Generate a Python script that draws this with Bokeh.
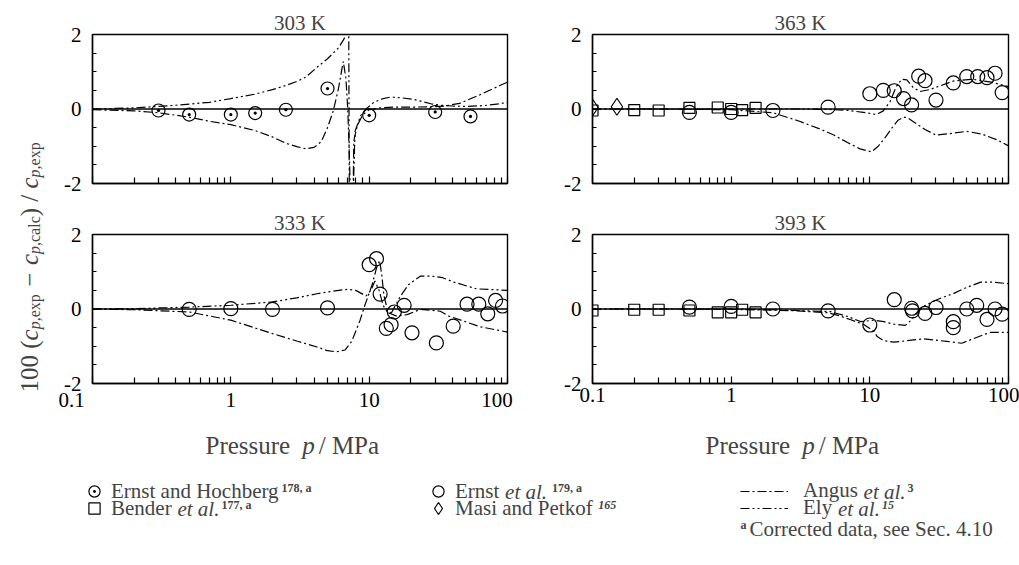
import math
from bokeh.plotting import figure
from bokeh.models import Range1d, FixedTicker, Span, Label, Legend, LegendItem
from bokeh.layouts import row, column
from bokeh.embed import file_html
from bokeh.resources import INLINE

FONT = "Liberation Serif"

# ---------------- data ----------------
# 303 K
eh303_p = [0.3, 0.5, 1.0, 1.5, 2.5, 5.0, 10.0, 30.0, 54.0]
eh303_d = [-0.04, -0.15, -0.15, -0.11, -0.02, 0.55, -0.17, -0.08, -0.20]
an303_p = [0.1, 0.2, 0.3, 0.5, 0.7, 1.0, 1.5, 2.0, 2.5, 3.0, 3.5, 4.0, 4.5, 5.0, 5.5, 6.0, 6.5, 6.8, 7.0, 7.2,
           7.4, 7.6, 7.75, 8.2, 9.0, 10, 12, 15, 20, 28, 35, 45, 63, 88, 100]
an303_d = [-0.02, -0.05, -0.1, -0.22, -0.33, -0.42, -0.58, -0.75, -0.92, -1.01, -1.07, -1.03, -0.88, -0.5, -0.05,
           0.55, 1.28, 0.8, 0.0, -1.3, -3.0, -3.0, -0.85, -0.45, -0.15, -0.02, 0.03, 0.05, 0.05, 0.06, 0.08, 0.15,
           0.38, 0.63, 0.72]
el303_p = [0.1, 0.2, 0.4, 0.7, 1.0, 1.5, 2.0, 2.5, 3.0, 3.5, 4.2, 5.0, 5.5, 6.0, 6.5, 6.85, 7.0, 7.1, 7.2, 7.5,
           7.9, 8.7, 9.5, 10.8, 12.4, 14.3, 17, 21, 24, 28, 33, 40, 50, 67, 88, 100]
el303_d = [0.0, 0.03, 0.1, 0.18, 0.28, 0.4, 0.52, 0.63, 0.74, 0.86, 1.12, 1.35, 1.5, 1.64, 1.85, 2.0, 3.5, 3.5,
           -3.5, -3.5, -0.6, -0.17, 0.0, 0.18, 0.27, 0.32, 0.3, 0.26, 0.2, 0.14, 0.1, 0.08, 0.07, 0.09, 0.14, 0.18]

# 363 K
b363_p = [0.1, 0.2, 0.3, 0.5, 0.8, 1.0, 1.2, 1.5]
b363_d = [-0.04, -0.03, -0.04, 0.03, 0.04, 0.0, -0.03, 0.03]
m363_p = [0.1, 0.15]
m363_d = [0.04, 0.06]
e363_p = [0.5, 1.0, 2.0, 5.0, 10, 12.5, 15, 17.5, 20, 22.5, 25, 30, 40, 50, 60, 70, 80, 90]
e363_d = [-0.09, -0.09, -0.04, 0.05, 0.41, 0.5, 0.49, 0.28, 0.11, 0.88, 0.76, 0.24, 0.70, 0.87, 0.87, 0.84,
          0.96, 0.44]
an363_p = [0.1, 0.3, 1.0, 2.0, 3.0, 4.4, 5.5, 6.9, 8.5, 10.3, 11.5, 13, 14.5, 16, 17.6, 19, 21, 25, 30, 38, 50,
           65, 83, 100]
an363_d = [0.0, 0.0, -0.02, -0.1, -0.31, -0.54, -0.7, -0.9, -1.07, -1.15, -1.0, -0.75, -0.5, -0.3, -0.22, -0.25,
           -0.36, -0.55, -0.7, -0.66, -0.6, -0.68, -0.83, -0.99]
el363_p = [0.1, 1.0, 3.0, 5.0, 7.0, 9.0, 11.2, 12.5, 14, 15.5, 17, 18.5, 20.5, 23, 27, 32, 40, 55, 75, 100]
el363_d = [0.0, 0.0, 0.0, -0.01, -0.04, -0.09, -0.15, -0.05, 0.2, 0.6, 0.8, 0.78, 0.58, 0.47, 0.52, 0.62, 0.75,
           0.8, 0.72, 0.6]

# 333 K
e333_p = [0.5, 1.0, 2.0, 5.0, 10.0, 11.3, 12.0, 13.3, 14.4, 15.2, 17.9, 20.4, 30.6, 40.5, 51, 62, 72, 82, 92]
e333_d = [-0.01, 0.01, -0.01, 0.03, 1.19, 1.35, 0.4, -0.52, -0.42, -0.08, 0.1, -0.64, -0.91, -0.46, 0.13, 0.13,
          -0.13, 0.23, 0.08]
an333_p = [0.1, 0.2, 0.5, 1.0, 2.0, 3.0, 4.2, 5.0, 5.8, 6.7, 7.5, 8.6, 9.35, 10.5, 11.3, 11.9, 12.3, 12.8, 13.7,
           15.8, 18.8, 23.5, 32.7, 37.6, 46, 64, 100]
an333_d = [0.0, -0.02, -0.08, -0.3, -0.66, -0.86, -1.02, -1.12, -1.15, -1.1, -0.86, -0.3, 0.12, 0.65, 1.1, 1.3,
           0.95, 0.35, -0.1, -0.19, -0.15, -0.01, -0.06, -0.19, -0.3, -0.48, -0.62]
el333_p = [0.1, 0.2, 0.5, 1.0, 2.0, 3.0, 4.2, 5.5, 7.0, 8.0, 9.5, 10.3, 11.0, 11.8, 12.6, 13.4, 14.5, 15.5, 16.8,
           19.3, 23.4, 28.5, 34, 41, 60, 100]
el333_d = [0.0, 0.01, 0.05, 0.1, 0.19, 0.3, 0.41, 0.48, 0.53, 0.5, 0.35, 0.5, 0.75, 0.5, 0.1, -0.06, -0.1, 0.1,
           0.34, 0.66, 0.88, 0.88, 0.84, 0.72, 0.54, 0.5]

# 393 K
b393_p = [0.1, 0.2, 0.3, 0.5, 0.8, 1.0, 1.2, 1.5]
b393_d = [-0.04, -0.02, -0.02, -0.04, -0.09, -0.09, -0.02, -0.09]
e393_p = [0.5, 1.0, 2.0, 5.0, 10, 15, 20, 20.3, 25, 30, 40, 40, 50, 59, 70, 80, 90]
e393_d = [0.05, 0.07, 0.0, -0.05, -0.43, 0.25, 0.02, -0.05, -0.12, 0.04, -0.34, -0.5, 0.0, 0.1, -0.28, 0.0,
          -0.14]
an393_p = [0.1, 0.5, 1.0, 2.0, 3.0, 5.0, 6.0, 7.3, 9.1, 10.7, 11.3, 12.6, 14.9, 17.6, 24.5, 36, 46, 53, 66, 74,
           100]
an393_d = [0.0, 0.0, -0.01, -0.03, -0.05, -0.1, -0.18, -0.29, -0.42, -0.6, -0.74, -0.85, -0.89, -0.86, -0.8,
           -0.87, -0.92, -0.83, -0.69, -0.63, -0.63]
el393_p = [0.1, 0.5, 1.0, 2.0, 3.0, 5.2, 6.9, 8.6, 10.7, 12.6, 14.9, 18, 19.6, 22, 24.3, 30.4, 40.3, 50, 63, 78,
           100]
el393_d = [0.0, 0.0, 0.0, -0.02, -0.04, -0.07, -0.2, -0.34, -0.3, -0.34, -0.41, -0.44, -0.32, -0.1, 0.07, 0.25,
           0.42, 0.58, 0.72, 0.72, 0.68]

x_major = [0.1, 1, 10, 100]
x_minor = [m * d for d in (0.1, 1, 10) for m in range(2, 10)]
y_major = [-2, 0, 2]
y_minor = [-1.5, -1, -0.5, 0.5, 1, 1.5]
y_labels = {-2: "-2", 0: "0", 2: "2"}

ANGUS_DASH = "9 3 2 3"
ELY_DASH = "9 3 2 3 2 3"
LW = 1.2

# Times-metric widths (em) used to lay out rich-text pieces
W_ROMAN = {"0": .5, "1": .5, "2": .5, " ": .25, "(": .333, ")": .333, "/": .278, "\u2212": .564, ",": .25,
           "e": .444, "x": .5, "p": .5, "c": .444, "a": .444, "l": .278}
W_ITAL = {"c": .444, "p": .5, "e": .444, "t": .278, "a": .5, "l": .278, ".": .25, " ": .25}


def tw(text, size, italic=False):
    tab = W_ITAL if italic else W_ROMAN
    return sum(tab.get(ch, .5) for ch in text) * size


def panel(title, width, height, bl, br, bt, bb, xlabels):
    p = figure(width=width, height=height, x_axis_type="log", x_range=Range1d(0.1, 100),
               y_range=Range1d(-2, 2), output_backend="svg", toolbar_location=None,
               min_border_left=bl, min_border_right=br, min_border_top=bt, min_border_bottom=bb,
               background_fill_color="white", border_fill_color="white")
    p.title.text = title
    p.title.align = "center"
    p.title.text_font = FONT
    p.title.text_font_size = "21px"
    p.title.text_font_style = "normal"
    p.title.standoff = 0
    p.grid.visible = False
    p.outline_line_color = "black"
    p.outline_line_width = 1.4
    for ax in (p.xaxis[0], p.yaxis[0]):
        ax.axis_line_color = "black"
        ax.axis_line_width = 1.4
        ax.major_tick_in = 7
        ax.major_tick_out = 0
        ax.minor_tick_in = 6
        ax.minor_tick_out = 0
        ax.major_tick_line_color = "black"
        ax.minor_tick_line_color = "black"
        ax.major_tick_line_width = 1.2
        ax.minor_tick_line_width = 1.2
        ax.major_label_text_font = FONT
        ax.major_label_text_font_size = "21px"
        ax.major_label_text_color = "black"
    p.yaxis.minor_tick_in = 4
    p.yaxis.major_tick_in = 5
    p.yaxis.major_label_standoff = 11
    p.yaxis.major_label_overrides = y_labels
    p.xaxis.ticker = FixedTicker(ticks=x_major, minor_ticks=x_minor)
    p.yaxis.ticker = FixedTicker(ticks=y_major, minor_ticks=y_minor)
    p.xaxis.major_label_standoff = 4
    if xlabels is None:
        p.xaxis.major_label_overrides = {0.1: "", 1: "", 10: "", 100: ""}
    else:
        p.xaxis.major_label_overrides = xlabels
    p.add_layout(Span(location=0, dimension="width", line_color="black", line_width=1.3))
    return p


def curves(p, ap, ad, ep, ed):
    p.line(ap, ad, line_color="black", line_width=LW, line_dash=ANGUS_DASH)
    p.line(ep, ed, line_color="black", line_width=LW, line_dash=ELY_DASH)


def pts(p, x, y, marker, size):
    p.scatter(x, y, marker=marker, size=size, fill_color=None, line_color="black", line_width=1.2)


FS = "\u2007"
# ---------------- panels (page origin at 0,0) ----------------
TOP_H, BOT_H = 208, 207
tl = panel("303 K", 493, TOP_H, 40, 38, 34, 25, None)
tr = panel("363 K", 474, TOP_H, 47, 11, 34, 25, None)
bl = panel("333 K", 493, BOT_H, 40, 38, 26, 32, {0.1: "0.1" + FS * 4, 1: "1", 10: "10", 100: "100" + FS * 2})
br = panel("393 K", 474, BOT_H, 47, 11, 26, 32, {0.1: "0.1", 1: "1", 10: "10", 100: "100"})

curves(tl, an303_p, an303_d, el303_p, el303_d)
pts(tl, eh303_p, eh303_d, "circle_dot", 13)

curves(tr, an363_p, an363_d, el363_p, el363_d)
pts(tr, b363_p, b363_d, "square", 11)
pts(tr, m363_p, m363_d, "diamond", 17)
pts(tr, e363_p, e363_d, "circle", 14)

curves(bl, an333_p, an333_d, el333_p, el333_d)
pts(bl, e333_p, e333_d, "circle", 14)

curves(br, an393_p, an393_d, el393_p, el393_d)
pts(br, b393_p, b393_d, "square", 11)
pts(br, e393_p, e393_d, "circle", 14)

# ---------------- y label ----------------
YL_W, YL_H = 52, TOP_H + BOT_H
ylab = figure(width=YL_W, height=YL_H, x_axis_type=None, y_axis_type=None, x_range=Range1d(0, 1),
              y_range=Range1d(0, 1), output_backend="svg", toolbar_location=None, min_border=0,
              outline_line_color=None)
ylab.grid.visible = False
MS, SS = 25, 16
# (text, size, italic, baseline shift, extra gap after in em of MS)
pieces = [("100 (", MS, False, 0, 0), ("c", MS, True, 0, 0), ("p", SS, True, 5, 0), (",exp", SS, False, 5, .3),
          ("\u2212", MS, False, 0, .3), ("c", MS, True, 0, 0), ("p", SS, True, 5, 0), (",calc", SS, False, 5, 0),
          (")", MS, False, 0, .25), ("/", MS, False, 0, .25), ("c", MS, True, 0, 0), ("p", SS, True, 5, 0),
          (",exp", SS, False, 5, 0)]
pos = YL_H - 392  # screen y (from bottom) of the text start
base_x = 29
for txt, size, ital, shift, gap in pieces:
    ylab.add_layout(Label(x=base_x + shift, y=pos, x_units="screen", y_units="screen", text=txt,
                          angle=math.pi / 2, text_font=FONT, text_font_size=f"{size}px",
                          text_font_style="italic" if ital else "normal", text_baseline="alphabetic",
                          text_align="left"))
    pos += tw(txt, size, ital) + gap * MS

# ---------------- axis titles + legend strip ----------------
LEG_TOP = TOP_H + BOT_H
LEG_W, LEG_H = 1019, 148
LEG_BOTTOM = LEG_TOP + LEG_H
leg = figure(width=LEG_W, height=LEG_H, x_axis_type=None, y_axis_type=None, x_range=Range1d(0, 1),
             y_range=Range1d(10, 11), output_backend="svg", toolbar_location=None, min_border=0,
             outline_line_color=None)
leg.grid.visible = False


def add_text(text, page_x, page_y, size="21px", style="normal", baseline="middle"):
    leg.add_layout(Label(x=page_x, y=LEG_BOTTOM - page_y, x_units="screen", y_units="screen", text=text,
                         text_font=FONT, text_font_size=size, text_font_style=style,
                         text_baseline=baseline))


# "Pressure p / MPa" under each bottom panel
for x0 in (205, 705):
    add_text("Pressure", x0, 445, "25px", "normal", "alphabetic")
    add_text("p", x0 + 84.7 + 12, 445, "25px", "italic", "alphabetic")
    add_text("/ MPa", x0 + 84.7 + 12 + 12.5 + 4, 445, "25px", "normal", "alphabetic")

# legend-only copies of the series (they lie outside this strip's y range, so only the legend shows them)
r_eh = leg.scatter(eh303_p, eh303_d, marker="circle_dot", size=10, fill_color=None, line_color="black",
                   line_width=1.2)
r_b = leg.scatter(b363_p, b363_d, marker="square", size=10, fill_color=None, line_color="black", line_width=1.2)
r_e = leg.scatter(e363_p, e363_d, marker="circle", size=10, fill_color=None, line_color="black", line_width=1.2)
r_m = leg.scatter(m363_p, m363_d, marker="diamond", size=10, fill_color=None, line_color="black",
                  line_width=1.2)
r_an = leg.line(an303_p, an303_d, line_color="black", line_width=LW, line_dash=ANGUS_DASH)
r_el = leg.line(el303_p, el303_d, line_color="black", line_width=LW, line_dash=ELY_DASH)


def add_item(label, rend, page_glyph_left, page_row_center, gw, standoff, gh=24):
    lg = Legend(items=[LegendItem(label=label, renderers=[rend])],
                location=(page_glyph_left, LEG_BOTTOM - (page_row_center + gh // 2)),
                padding=0, margin=0, spacing=0, border_line_color=None, background_fill_alpha=0,
                glyph_width=gw, glyph_height=gh, label_height=gh, label_standoff=standoff,
                label_text_font=FONT, label_text_font_size="21px")
    leg.add_layout(lg)


R1, R2 = 491, 508
LF = 21
# group 1
add_item("Ernst and Hochberg", r_eh, 80, R1, 28, 3, 28)
add_item("Bender", r_b, 80, R2, 28, 3, 28)
add_text("178, a", 111 + 8.0 * LF + 2, R1 - 4, "12px", "bold", "alphabetic")
x = 111 + 2.888 * LF + 0.25 * LF
add_text("et al.", x, R2, style="italic")
add_text("177, a", x + 2.0 * LF + 2, R2 - 4, "12px", "bold", "alphabetic")
# group 2
G2 = 424
add_item("Ernst", r_e, G2, R1, 28, 3, 28)
add_item("Masi and Petkof", r_m, G2 - 1, R2, 30, 2, 30)
T2 = G2 + 31
x = T2 + 2.111 * LF + 0.25 * LF
add_text("et al.", x, R1, style="italic")
add_text("179, a", x + 2.0 * LF + 5, R1 - 4, "12px", "bold", "alphabetic")
add_text("165", T2 + 6.555 * LF + 5, R2 - 4, "12px", "bold italic", "alphabetic")
# group 3
G3 = 740
add_item("Angus", r_an, G3, R1, 48, 15)
add_item("Ely", r_el, G3, R2, 48, 15)
T3 = G3 + 63
x = T3 + 2.611 * LF + 0.25 * LF
add_text("et al.", x, R1, style="italic")
add_text("3", x + 2.0 * LF + 2, R1 - 4, "12px", "bold", "alphabetic")
x = T3 + 1.389 * LF + 0.25 * LF
add_text("et al.", x, R2, style="italic")
add_text("15", x + 2.0 * LF + 2, R2 - 4, "12px", "bold italic", "alphabetic")
# footnote
add_text("a", G3, 524, "12px", "bold", "alphabetic")
add_text("Corrected data, see Sec. 4.10", G3 + 9, 528, "21px")

layout = column(row(ylab, column(row(tl, tr), row(bl, br))), leg)
open("out.html", "w").write(file_html(layout, INLINE))
